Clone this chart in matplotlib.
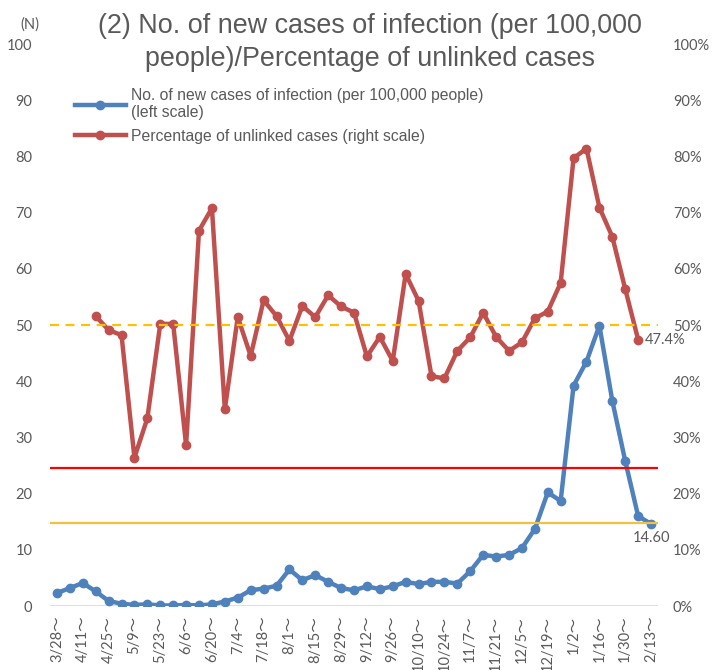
import matplotlib
matplotlib.use("Agg")
import matplotlib.pyplot as plt
from matplotlib.ticker import FuncFormatter, MultipleLocator

# weekly periods (start dates)
weeks = ["3/28", "4/4", "4/11", "4/18", "4/25", "5/2", "5/9", "5/16", "5/23", "5/30",
         "6/6", "6/13", "6/20", "6/27", "7/4", "7/11", "7/18", "7/25", "8/1", "8/8",
         "8/15", "8/22", "8/29", "9/5", "9/12", "9/19", "9/26", "10/3", "10/10", "10/17",
         "10/24", "10/31", "11/7", "11/14", "11/21", "11/28", "12/5", "12/12", "12/19", "12/26",
         "1/2", "1/9", "1/16", "1/23", "1/30", "2/6", "2/13"]

# new cases per 100,000 people (left scale)
new_cases = [2.3, 3.2, 4.1, 2.6, 0.9, 0.4, 0.2, 0.3, 0.1, 0.1,
             0.2, 0.1, 0.3, 0.8, 1.5, 2.8, 3.1, 3.6, 6.5, 4.6,
             5.5, 4.3, 3.2, 2.8, 3.5, 3.0, 3.5, 4.3, 3.9, 4.3,
             4.3, 4.0, 6.2, 9.1, 8.8, 9.1, 10.3, 13.7, 20.2, 18.7,
             39.2, 43.5, 49.9, 36.5, 25.8, 16.0, 14.6]

# percentage of unlinked cases (right scale), starts 4/18, ends 2/6
unlinked_start = 3
unlinked = [51.6, 49.1, 48.2, 26.4, 33.4, 50.2, 50.2, 28.6, 66.8, 70.8,
            35.0, 51.4, 44.5, 54.4, 51.6, 47.2, 53.4, 51.4, 55.3, 53.3,
            52.2, 44.4, 47.9, 43.6, 59.1, 54.3, 40.9, 40.5, 45.4, 47.8,
            52.2, 47.9, 45.4, 46.9, 51.2, 52.4, 57.5, 79.7, 81.4, 70.9,
            65.7, 56.4, 47.4]

stage_red = 24.5
stage_yellow = 14.7
unlinked_ref = 50

gray = "#595959"
blue = "#4f81bd"
red = "#c0504d"
tick_font = ["Lato", "Noto Sans CJK JP"]

fig = plt.figure(figsize=(7.19, 6.70), dpi=100)
ax2 = fig.add_axes([0.0702, 0.0955, 0.8443, 0.8388])
ax = ax2.twinx()
ax.set_zorder(ax2.get_zorder() + 1)
ax.patch.set_visible(False)

x = list(range(len(weeks)))
xu = x[unlinked_start:unlinked_start + len(unlinked)]

ax2.plot(xu, unlinked, color=red, lw=3.2, marker="o", ms=6, zorder=3,
         solid_joinstyle="round")
ax2.axhline(unlinked_ref, color="#ffc000", lw=1.6, ls=(0, (4, 3)), zorder=4)
ax2.annotate(f"{unlinked[-1]:.1f}%", (xu[-1], unlinked[-1]), xytext=(5, 0),
             textcoords="offset points", ha="left", va="center",
             fontsize=10.5, color=gray, family=tick_font)

ax.plot(x, new_cases, color=blue, lw=3.2, marker="o", ms=6, zorder=3,
        solid_joinstyle="round", label="No. of new cases of infection (per 100,000 people)\n(left scale)")
ax.plot([], [], color=red, lw=3.2, marker="o", ms=6,
        label="Percentage of unlinked cases (right scale)")
ax.axhline(stage_red, color="#ff0000", lw=1.6, zorder=4)
ax.axhline(stage_yellow, color="#f5c040", lw=1.6, zorder=4)
ax.annotate(f"{new_cases[-1]:.2f}", (x[-1], new_cases[-1]), xytext=(0, -5),
            textcoords="offset points", ha="center", va="top",
            fontsize=10.5, color=gray, family=tick_font)

# left axis on the left side, right axis with percentages
for a in (ax, ax2):
    a.set_xlim(-0.5, len(weeks) - 0.5)
    a.set_ylim(0, 100)
    for s in a.spines.values():
        s.set_visible(False)
ax2.axhline(0, color="#d9d9d9", lw=1.2, zorder=1)

ax.yaxis.set_ticks_position("left")
ax.yaxis.set_label_position("left")
ax2.yaxis.set_ticks_position("right")
ax.yaxis.set_major_locator(MultipleLocator(10))
ax2.yaxis.set_major_locator(MultipleLocator(10))
ax2.yaxis.set_major_formatter(FuncFormatter(lambda v, p: f"{v:.0f}%"))
ax.tick_params(axis="y", length=0, pad=13, labelsize=10.5, labelcolor=gray)
ax2.tick_params(axis="y", length=0, pad=11, labelsize=10.5, labelcolor=gray)
for lab in ax.get_yticklabels() + ax2.get_yticklabels():
    lab.set_family(tick_font)

ax.set_xticks([])
ax2.set_xticks(x[::2])
ax2.set_xticklabels([w + "～" for w in weeks[::2]], rotation=90, family=tick_font,
                    fontsize=10.5, color=gray)
ax2.tick_params(axis="x", length=0, pad=7)

fig.text(0.028, 0.963, "(N)", ha="left", va="center", fontsize=10.5, color=gray,
         family=tick_font)
fig.text(0.515, 0.936, "(2) No. of new cases of infection (per 100,000\npeople)/Percentage of unlinked cases",
         ha="center", va="center", fontsize=19.4, color=gray, family="Liberation Sans",
         linespacing=1.35)

leg = ax.legend(loc="upper left", bbox_to_anchor=(0.084, 0.89), bbox_transform=fig.transFigure,
                frameon=False, handlelength=3.3, handletextpad=0.3, labelspacing=0.55,
                prop={"family": "Liberation Sans", "size": 11.3})
for t in leg.get_texts():
    t.set_color(gray)

fig.savefig("out.png", dpi=100)
